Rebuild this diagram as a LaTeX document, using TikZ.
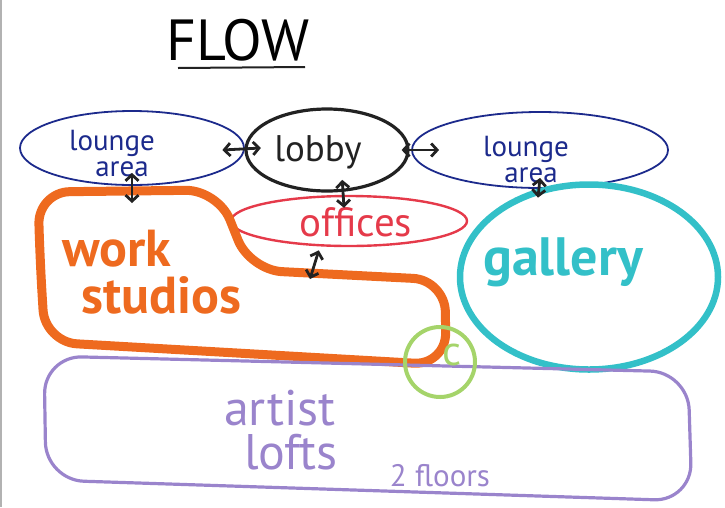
\documentclass[tikz,border=0pt]{standalone}
\usepackage{fontspec}
\setmainfont{PT Sans}
\usetikzlibrary{arrows.meta,shapes.geometric}
\definecolor{navy}{HTML}{1C2A8C}
\definecolor{lobbyblk}{HTML}{222222}
\definecolor{offred}{HTML}{E53A4A}
\definecolor{wsorange}{HTML}{EE6A1F}
\definecolor{galcyan}{HTML}{33C0C8}
\definecolor{cgreen}{HTML}{A5D46A}
\definecolor{loftpurple}{HTML}{9A84CC}
\begin{document}
\begin{tikzpicture}[x=1pt,y=-1pt,
  room/.style={ellipse,inner sep=0pt},
  txt/.style={inner sep=0pt,align=center},
  flow/.style={draw=lobbyblk,line width=2.8pt,line cap=round,
    {Straight Barb[length=6pt,width=13pt]}-{Straight Barb[length=6pt,width=13pt]}},
  fs/.style={font=\fontsize{#1}{#1}\selectfont}
]
\useasboundingbox (0,0) rectangle (725,507);
\draw[gray!60,line width=1.5pt] (1,0) -- (1,507);

% title
\node[txt,fs=58] (title) at (238,40) {FLOW};
\draw[line width=2pt,lobbyblk] (178,68) -- (305,67);

% rooms
\node[room,draw=navy,line width=1.8pt,minimum width=224pt,minimum height=74pt] (lounge1) at (132,148) {};
\node[txt,text=navy,font=\fontsize{29}{26}\selectfont] (lounge1t) at (112,154) {lounge\\\hspace*{20pt}area};
\node[room,draw=lobbyblk,line width=3.2pt,minimum width=162pt,minimum height=82pt] (lobby) at (327,150) {};
\node[txt,fs=37,text=lobbyblk] (lobbyt) at (318,152) {lobby};
\node[room,draw=navy,line width=1.8pt,minimum width=256pt,minimum height=76pt] (lounge2) at (540,150) {};
\node[txt,text=navy,font=\fontsize{29}{26}\selectfont] (lounge2t) at (526,160) {lounge\\\hspace*{10pt}area};
\node[room,draw=offred,line width=2.4pt,minimum width=236pt,minimum height=50pt] (offices) at (349,221) {};
\node[txt,fs=41,text=offred] (officest) at (356,222) {offices};
\node[room,draw=galcyan,line width=6.5pt,minimum width=258pt,minimum height=185pt] (gallery) at (589,277) {};
\node[txt,text=galcyan,font=\bfseries\fontsize{54}{54}\selectfont] (galleryt) at (563,262) {gallery};

% work studios
\draw[wsorange,line width=9pt,rounded corners=32pt]
  (40,260) -- (38,192) -- (218,190) -- (250,270) -- (445,280) -- (446,365) -- (45,342) -- cycle;
\coordinate (wsTop) at (132,191);
\coordinate (wsMid) at (310,273);
\node[txt,text=wsorange,font=\bfseries\fontsize{52}{47}\selectfont,align=left] (wst) at (152,272) {work\\\hspace*{19pt}studios};

% artist lofts
\draw[loftpurple,line width=3.2pt,rounded corners=38pt]
  (44,356) -- (688,372) -- (692,501) -- (46,480) -- cycle;
\node[txt,text=loftpurple,font=\fontsize{50}{44}\selectfont] (loftst) at (280,430) {artist\\\hspace*{22pt}lofts};
\node[txt,fs=31,text=loftpurple] (floorst) at (440,476) {2 floors};

% c circle
\node[circle,draw=cgreen,line width=4pt,minimum size=70pt,inner sep=0pt] (cnode) at (440,362) {};
\node[txt,fs=42,text=cgreen] (ct) at (452,355) {c};

% arrows
\draw[flow] ([xshift=-22pt]lobby.west) -- ([xshift=16pt]lounge1.east);
\draw[flow] ([xshift=-8pt]lobby.east) -- ([xshift=28pt]lounge2.west);
\draw[flow] ([yshift=13pt]lounge1.south) -- ([yshift=-12pt]wsTop);
\draw[flow] ([yshift=12pt]lobby.-70) -- ([xshift=-5pt,yshift=-13pt]offices.north);
\draw[flow] ([yshift=11pt]lounge2.south) -- ([yshift=-9pt]gallery.120);
\draw[flow] ([yshift=-4pt]offices.-140) -- ([yshift=-6pt]wsMid);
\end{tikzpicture}
\end{document}
